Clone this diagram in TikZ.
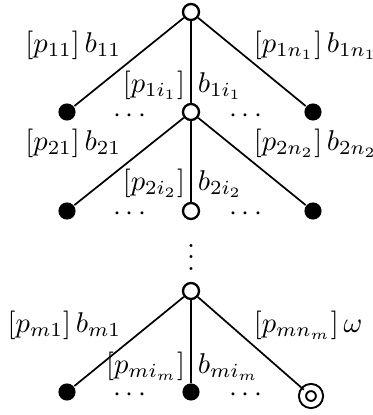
\documentclass[tikz,border=0pt]{standalone}
\usepackage{tikz}
\usetikzlibrary{arrows.meta}
\usepackage{xcolor}

\begin{document}
\begin{tikzpicture}[x=0.35pt,y=-0.35pt,
    open/.style={circle,draw,line width=0.8pt,inner sep=0pt,minimum size=5.6pt},
    full/.style={circle,fill,inner sep=0pt,minimum size=6pt},
    final/.style={circle,draw,double,double distance=1.75pt,line width=0.7pt,inner sep=0pt,minimum size=5.95pt},
    lab/.style={inner sep=0pt},
    every path/.style={line width=0.6pt}]

  \useasboundingbox (0,0) rectangle (373,415);

  % first level
  \node[open] (v0) at (191,12) {};
  \node[full] (a1) at (67,112) {};
  \node[open] (v1) at (191,112) {};
  \node[full] (z1) at (313,112) {};
  \draw (v0) -- (a1);
  \draw (v0) -- (v1);
  \draw (v0) -- (z1);
  \node[lab,anchor=base east] (la1) at (122,52) {$[p_{11}]\,b_{11}$};
  \node[lab,anchor=base west] (lz1) at (253,52) {$[p_{1n_1}]\,b_{1n_1}$};
  \node[lab,anchor=base east] (lp1) at (186,92) {$[p_{1i_1}]$};
  \node[lab,anchor=base west] (lb1) at (197,92) {$b_{1i_1}$};
  \node[lab] (dl1) at (130,116) {$\cdots$};
  \node[lab] (dr1) at (246,116) {$\cdots$};

  % second level
  \node[full] (a2) at (67,211) {};
  \node[open] (v2) at (191,211) {};
  \node[full] (z2) at (313,211) {};
  \draw (v1) -- (a2);
  \draw (v1) -- (v2);
  \draw (v1) -- (z2);
  \node[lab,anchor=base east] (la2) at (122,150) {$[p_{21}]\,b_{21}$};
  \node[lab,anchor=base west] (lz2) at (253,150) {$[p_{2n_2}]\,b_{2n_2}$};
  \node[lab,anchor=base east] (lp2) at (186,190) {$[p_{2i_2}]$};
  \node[lab,anchor=base west] (lb2) at (197,190) {$b_{2i_2}$};
  \node[lab] (dl2) at (130,214) {$\cdots$};
  \node[lab] (dr2) at (246,214) {$\cdots$};

  \node[lab,anchor=base] (vd) at (191,270) {$\vdots$};

  % last level
  \node[open] (vm) at (191,291) {};
  \node[full] (am) at (67,392) {};
  \node[full] (cm) at (191,392) {};
  \node[final] (zm) at (311,396) {};
  \draw (vm) -- (am);
  \draw (vm) -- (cm);
  \draw (vm) -- (zm);
  \node[lab,anchor=base east] (lam) at (122,332) {$[p_{m1}]\,b_{m1}$};
  \node[lab,anchor=base west] (lzm) at (253,332) {$[p_{mn_m}]\,\omega$};
  \node[lab,anchor=base east] (lpm) at (186,373) {$[p_{mi_m}]$};
  \node[lab,anchor=base west] (lbm) at (197,373) {$b_{mi_m}$};
  \node[lab] (dlm) at (130,395) {$\cdots$};
  \node[lab] (drm) at (246,395) {$\cdots$};

\end{tikzpicture}
\end{document}
